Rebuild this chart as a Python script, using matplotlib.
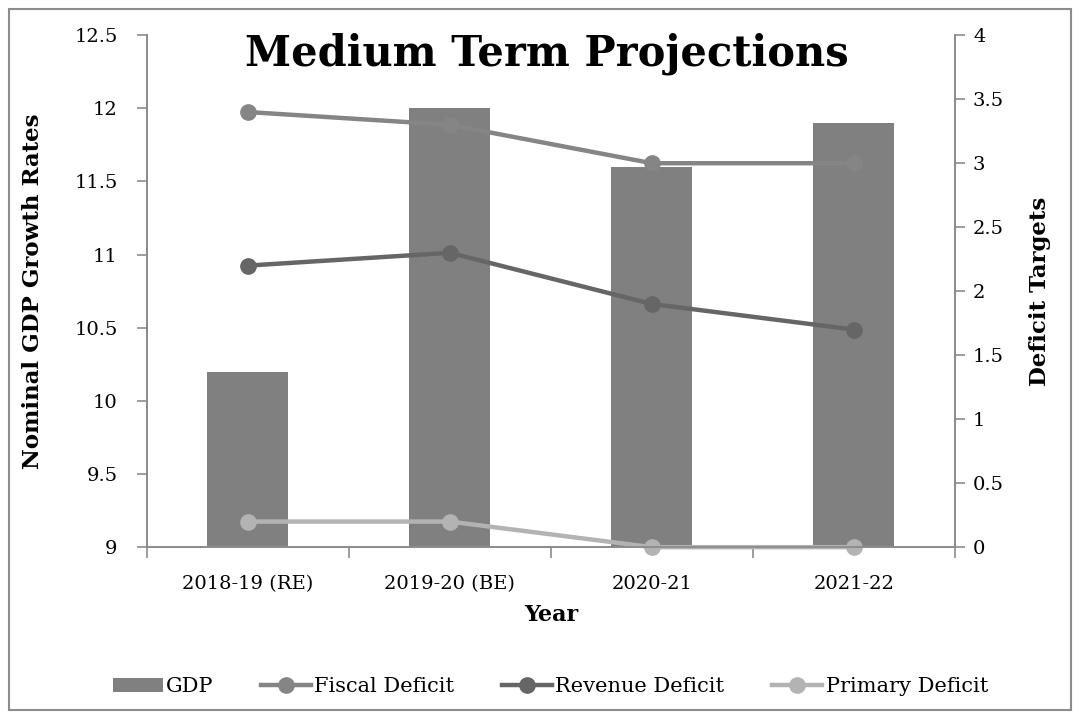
import matplotlib.pyplot as plt
from matplotlib.patches import Rectangle
import numpy as np

years = ["2018-19 (RE)", "2019-20 (BE)", "2020-21", "2021-22"]
gdp = [10.2, 12.0, 11.6, 11.9]
fiscal = [3.4, 3.3, 3.0, 3.0]
revenue = [2.2, 2.3, 1.9, 1.7]
primary = [0.2, 0.2, 0.0, 0.0]

left_ticks = [9, 9.5, 10, 10.5, 11, 11.5, 12, 12.5]
right_ticks = [0, 0.5, 1, 1.5, 2, 2.5, 3, 3.5, 4]

spine = "#8c8c8c"
plt.rcParams.update({
    "font.family": "DejaVu Serif",
    "font.size": 14,
    "axes.edgecolor": spine,
    "xtick.color": spine,
    "ytick.color": spine,
    "xtick.labelcolor": "black",
    "ytick.labelcolor": "black",
})

fig = plt.figure(figsize=(10.79, 7.19), dpi=100)
ax = fig.add_axes([0.136, 0.239, 0.749, 0.712])
ax2 = ax.twinx()

x = np.arange(len(years))
b = ax.bar(x, gdp, 0.4, color="#808080", label="GDP", zorder=2)
ax.set_ylim(9, 12.5)
ax.set_yticks(left_ticks, [f"{t:g}" for t in left_ticks])
ax.set_xlim(-0.5, 3.5)
ax.set_xticks(x, years)
ax.set_xticks(np.arange(-0.5, 4.0, 1.0), minor=True)
ax.tick_params(axis="x", which="major", length=0, pad=20, labelsize=14)
ax.tick_params(axis="x", which="minor", length=8, width=1.2)
ax.tick_params(axis="y", length=7, width=1.2, pad=14, labelsize=14)
ax.set_xlabel("Year", fontsize=16, fontweight="bold", labelpad=8)
ax.set_ylabel("Nominal GDP Growth Rates", fontsize=16.5, fontweight="bold", labelpad=22)

lw = 3.2
ms = 11
l1, = ax2.plot(x, fiscal, "-o", color="#858585", lw=lw, ms=ms, label="Fiscal Deficit")
l2, = ax2.plot(x, revenue, "-o", color="#666666", lw=lw, ms=ms, label="Revenue Deficit")
l3, = ax2.plot(x, primary, "-o", color="#b3b3b3", lw=lw, ms=ms, label="Primary Deficit",
               clip_on=False)
ax2.set_ylim(0, 4)
ax2.set_yticks(right_ticks, [f"{t:g}" for t in right_ticks])
ax2.tick_params(axis="y", length=7, width=1.2, pad=6, labelsize=14)
ax2.set_ylabel("Deficit Targets", fontsize=16.5, fontweight="bold", labelpad=18)

for a in (ax, ax2):
    a.spines["top"].set_visible(False)
    for s in a.spines.values():
        s.set_linewidth(1.3)

fig.text(0.507, 0.925, "Medium Term Projections", ha="center", va="center",
         fontsize=30, fontweight="bold")

fig.legend([b, l1, l2, l3], ["GDP", "Fiscal Deficit", "Revenue Deficit", "Primary Deficit"],
           loc="center", bbox_to_anchor=(0.51, 0.045), ncol=4, frameon=False,
           fontsize=15, handlelength=2.4, handletextpad=0.15, columnspacing=2.3)

fig.patches.append(Rectangle((0.008, 0.012), 0.985, 0.976, transform=fig.transFigure,
                             fill=False, edgecolor="#8c8c8c", linewidth=1.5))

fig.savefig("out.png", dpi=100)
